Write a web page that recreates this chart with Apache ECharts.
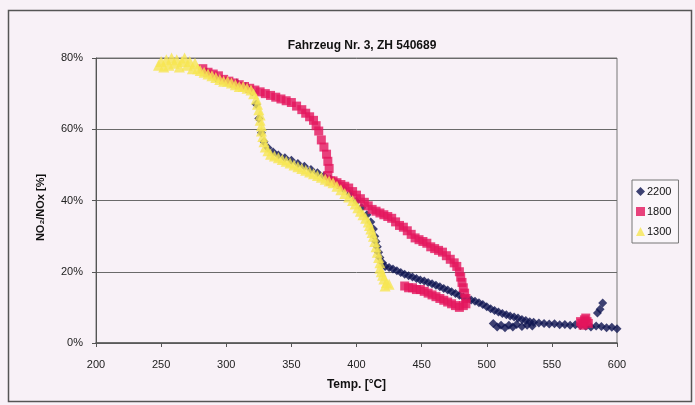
<!DOCTYPE html>
<html>
<head>
<meta charset="utf-8">
<script src="https://cdn.jsdelivr.net/npm/echarts@6/dist/echarts.min.js"></script>
<style>
html,body{margin:0;padding:0;background:#f8f1f7;}
#chart{width:695px;height:405px;}
</style>
</head>
<body>
<div id="chart"></div>
<script>
const titleText = 'Fahrzeug Nr. 3, ZH 540689';
const xAxisName = 'Temp. [°C]';
const yAxisName = 'NO₂/NOx [%]';
const seriesNames = ['2200', '1800', '1300'];

// [temperature °C, NO2/NOx %]
const data2200 = [
  [285,76],[292,74.5],[300,73.5],[308,73],[315,72],[320,70.5],[323,67],[325,63],[327,59],[329,56.5],[332,54.8],
  [336,53.6],[340,52.8],[345,52],[350,51.3],[355,50.4],[360,49.6],[365,48.7],[370,47.8],[375,46.9],[380,46],
  [385,44.8],[390,43.3],[395,41.8],[400,39.8],[404,38],[408,36],[411,34],[413,32],[414,30],[415,28.5],[416,27],
  [417,25.5],[418,24],[420,22.5],[422,21.5],[425,21.2],[428,20.8],[431,20.3],[434,19.8],[437,19.3],[440,18.9],
  [443,18.5],[446,18.1],[449,17.7],[452,17.4],[455,17],[458,16.6],[461,16.2],[464,15.8],[467,15.3],[470,14.9],
  [473,14.4],[476,13.9],[479,13.4],[482,12.9],[485,12.5],[488,12.1],[491,11.7],[494,11.3],[497,10.8],
  [500,10.2],[503,9.6],[506,9.1],[509,8.7],[512,8.3],[515,7.9],[518,7.6],[521,7.3],[524,7],[527,6.6],
  [530,6.3],[533,6],[536,5.8],[540,5.6],[544,5.5],[548,5.3],[552,5.4],[556,5.1],[560,5.2],[564,5],
  [568,5.1],[572,4.9],[576,4.7],[580,4.5],[584,4.8],[588,4.6],[592,4.3],[596,4.4],[600,4],
  [505,5.5],[508,4.5],[511,5],[514,4.3],[517,5],[520,4.5],[523,5.2],[527,4.6],[531,5],[535,4.8],
  [585,8.4],[587,9.5],[589,11.2]
];
const data1800 = [
  [282,77],[286,76],[290,75.5],[294,75],[298,74],[302,73.5],[306,73],[310,72.5],[314,72],[318,71.5],
  [322,71],[326,70.5],[330,70],[334,69.5],[338,69],[342,68.5],[346,68],[350,67.5],[354,66.5],[358,65.5],
  [361,64.5],[364,63.5],[367,62.5],[369,61],[371,59.5],[373,57],[375,55],[377,53],[378,51],[379,49],
  [378,47],[380,45.5],[382,45.5],[385,45],[388,44.5],[391,44],[394,43.5],[397,42.5],[400,41.5],[403,40.5],
  [406,39.5],[409,38.5],[412,37.5],[415,37],[418,36.5],[421,36],[424,35.5],[427,35],[430,34],[433,33],
  [436,32.5],[439,31.5],[442,30.5],[445,29.5],[448,29],[451,28.5],[454,28],[457,27],[460,26.5],[463,26],
  [466,25.5],[469,24.5],[472,23.5],[475,22.5],[477,21.5],[479,20],[480,18.5],[481,17],[482,15.5],
  [483,14],[484,12.5],[484,11],[482,10.5],[479,10],[476,10.5],[473,11],[470,11.5],[467,12],[464,12.5],
  [461,13],[458,13.5],[455,14],[452,14.5],[449,15],[446,15],[443,15.5],[440,15.5],[437,16],
  [572,6],[575,6.5],[578,5.5],[574,5],[577,6],[573,5.5],[576,7]
];
const data1300 = [
  [248,78],[250,79],[252,77.5],[254,79.5],[256,78],[258,80],[260,78.5],[262,79.5],[264,77.5],[266,79],
  [268,80],[270,78],[272,79],[274,77],[276,78.5],[278,77],[280,76.5],[283,76],[286,75.5],[289,75],
  [292,74.5],[295,74],[298,73.5],[301,73.5],[304,73],[307,72.5],[310,72],[313,72],[316,71.5],[319,71],
  [321,70],[323,68.5],[324,67],[325,65.5],[326,64],[326,62.5],[327,61],[327,59.5],[328,58],[329,56.5],
  [330,55],[332,54],[334,53],[337,52.5],[340,52],[343,51.5],[346,51],[349,50.5],[352,50],[355,49.5],
  [358,49],[361,48.5],[364,48],[367,47.5],[370,47],[373,46.5],[376,46],[379,45.5],[382,45],[385,44],
  [388,43],[391,42],[394,41],[397,40],[399,39],[401,38],[403,37],[405,36],[407,35],[409,34],[410,33],
  [411,32],[412,31],[413,30],[414,28.5],[415,27],[416,25.5],[417,24],[418,22.5],[418,21],[419,20],
  [420,19],[421,18],[423,17],[425,16.5],[422,16]
];

const FONT = 'Liberation Sans';
const chart = echarts.init(document.getElementById('chart'));
chart.setOption({
  backgroundColor: '#f8f1f7',
  animation: false,
  title: {
    text: titleText, left: 357, top: 35, textAlign: 'center',
    textStyle: {fontFamily: FONT, fontSize: 12, fontWeight: 'bold', color: '#111'}
  },
  graphic: [{
    type: 'rect', left: 6, top: 8, silent: true,
    shape: {width: 683, height: 391},
    style: {fill: 'none', stroke: '#555', lineWidth: 1.5}
  }],
  legend: {
    orient: 'vertical', left: 632, top: 180,
    data: [
      {name: '2200', icon: 'diamond'},
      {name: '1800', icon: 'rect'},
      {name: '1300', icon: 'triangle'}
    ],
    itemWidth: 9, itemHeight: 9, itemGap: 9,
    padding: [6, 7, 6, 4],
    borderColor: '#777', borderWidth: 1, backgroundColor: '#faf6fa',
    textStyle: {fontFamily: FONT, fontSize: 11, color: '#111', padding: [0,0,0,-3]}
  },
  grid: {left: 96, right: 78, top: 58, bottom: 62, show: true, borderColor: '#777', borderWidth: 1},
  xAxis: {
    type: 'value', min: 200, max: 600, interval: 50,
    name: xAxisName, nameLocation: 'middle', nameGap: 36,
    nameTextStyle: {fontFamily: FONT, fontSize: 12, fontWeight: 'bold', color: '#111'},
    axisLine: {lineStyle: {color: '#555', width: 1.5}},
    axisTick: {show: true, inside: false, length: 4, lineStyle: {color: '#555'}},
    axisLabel: {fontFamily: FONT, fontSize: 11, color: '#222', margin: 16},
    splitLine: {show: false}
  },
  yAxis: {
    type: 'value', min: 0, max: 80, interval: 20,
    name: yAxisName, nameLocation: 'middle', nameGap: 50, nameRotate: 90,
    nameTextStyle: {fontFamily: FONT, fontSize: 11, fontWeight: 'bold', color: '#111', padding: [0, 0, 0, -14]},
    axisLine: {show: true, lineStyle: {color: '#555', width: 1}},
    axisTick: {show: true, length: 4, lineStyle: {color: '#555'}},
    axisLabel: {fontFamily: FONT, fontSize: 11, color: '#222', margin: 13, formatter: '{value}%'},
    splitLine: {show: true, lineStyle: {color: '#6a6a6a', width: 1}}
  },
  series: [
    {name: seriesNames[0], type: 'scatter', data: data2200, symbol: 'diamond', symbolSize: 9,
     itemStyle: {color: '#0e1450'}},
    {name: seriesNames[1], type: 'scatter', data: data1800, symbol: 'rect', symbolSize: 9,
     itemStyle: {color: '#e3155c'}},
    {name: seriesNames[2], type: 'scatter', data: data1300, symbol: 'triangle', symbolSize: 11,
     itemStyle: {color: '#f6e652'}}
  ]
});
</script>
</body>
</html>
